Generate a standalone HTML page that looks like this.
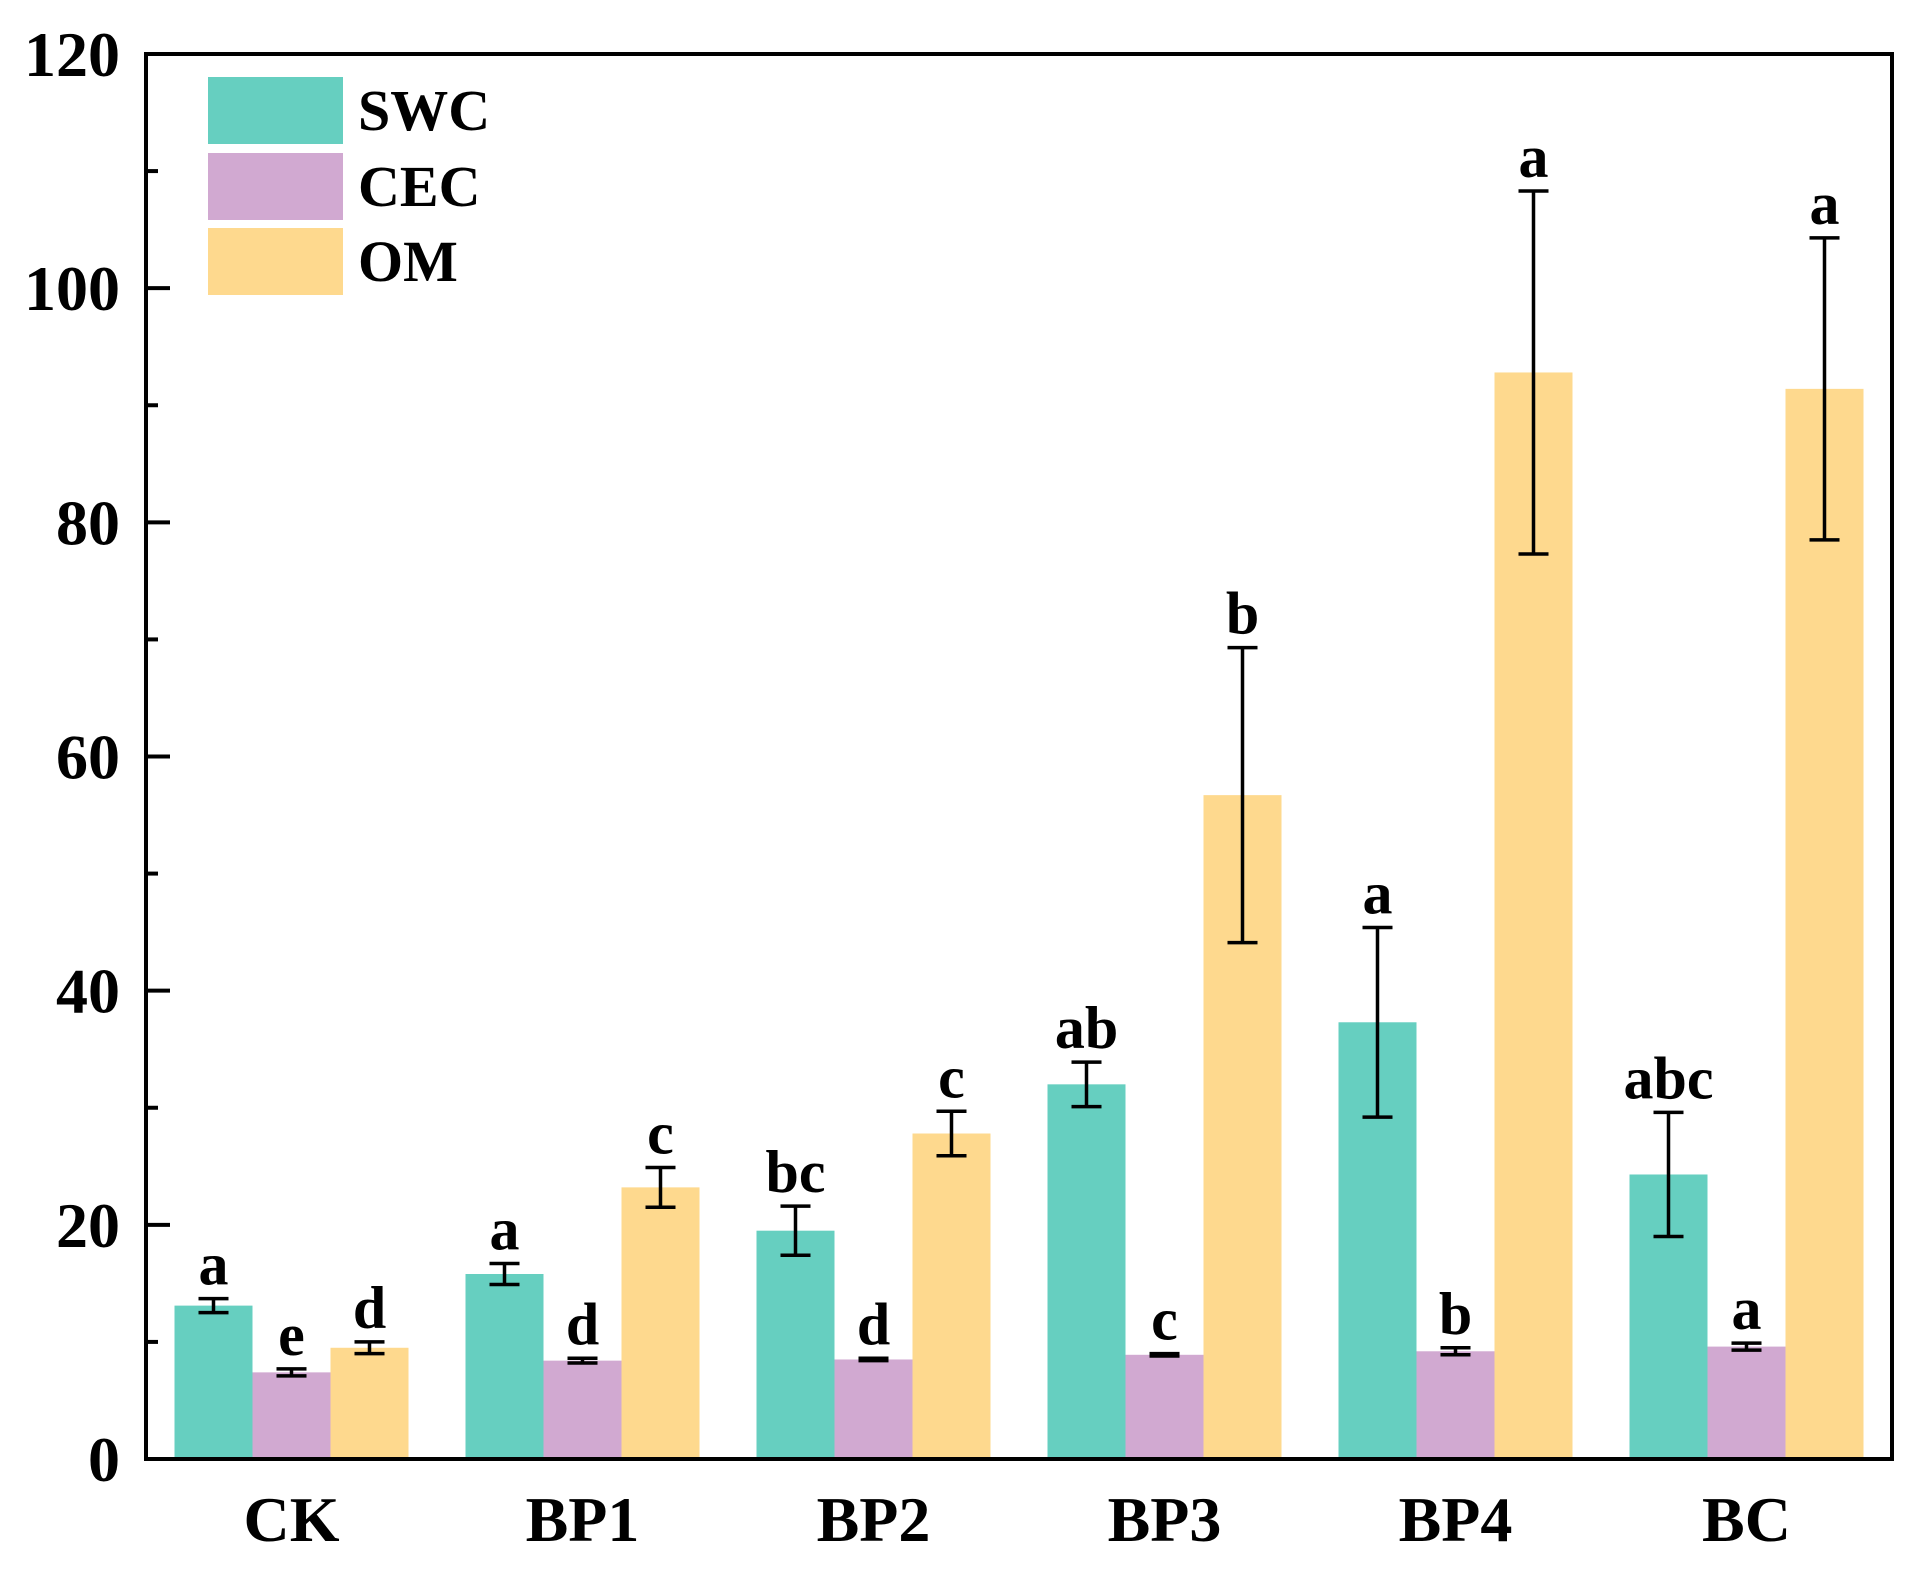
<!DOCTYPE html>
<html><head><meta charset="utf-8"><style>
body{margin:0;background:#fff}
svg{display:block}
text{font-family:"Liberation Serif",serif;font-weight:bold;fill:#000}
</style></head><body>
<svg id="chart" width="1914" height="1574" viewBox="0 0 1914 1574" xmlns="http://www.w3.org/2000/svg">
<g id="bars"></g>
<g id="axes"></g>
<g id="legend"></g>
</svg>
<script>
const categories = ["CK","BP1","BP2","BP3","BP4","BC"];
const seriesNames = ["SWC","CEC","OM"];
const swcValues = [13.1,15.8,19.5,32.0,37.3,24.3];
const cecValues = [7.4,8.4,8.5,8.9,9.2,9.6];
const omValues = [9.5,23.2,27.8,56.7,92.8,91.4];
const swcErrors = [0.6,0.9,2.1,1.9,8.1,5.3];
const cecErrors = [0.3,0.2,0.1,0.1,0.3,0.3];
const omErrors = [0.5,1.7,1.9,12.6,15.5,12.9];
const swcLetters = ["a","a","bc","ab","a","abc"];
const cecLetters = ["e","d","d","c","b","a"];
const omLetters = ["d","c","c","b","a","a"];
const yTicks = [0,20,40,60,80,100,120];
const colors = ["#66cfc0","#d1a9d1","#fed98e"];

const NS="http://www.w3.org/2000/svg";
const L=146,R=1892,T=54,B=1459;
const yMax=120;
function y(v){return B-(v/yMax)*(B-T);}
const groupW=(R-L)/categories.length;
function gx(i){return L+groupW*(i+0.5);}
const barW=78;
function mk(tag,attrs,parent){const e=document.createElementNS(NS,tag);for(const k in attrs)e.setAttribute(k,attrs[k]);parent.appendChild(e);return e;}
const bars=document.getElementById('bars');
const axes=document.getElementById('axes');
const legend=document.getElementById('legend');
const vals=[swcValues,cecValues,omValues];
const errs=[swcErrors,cecErrors,omErrors];
const lets=[swcLetters,cecLetters,omLetters];
categories.forEach((c,i)=>{
  for(let s=0;s<3;s++){
    const cx=gx(i)+(s-1)*barW;
    const v=vals[s][i],e=errs[s][i];
    const r=mk('rect',{x:cx-barW/2,y:y(v),width:barW,height:B-y(v),fill:colors[s]},bars);
    
    
    const g=mk('g',{stroke:'#000','stroke-width':3.5},bars);
    
    
    mk('line',{x1:cx,x2:cx,y1:y(v+e),y2:y(v-e)},g);
    mk('line',{x1:cx-15,x2:cx+15,y1:y(v+e),y2:y(v+e)},g);
    mk('line',{x1:cx-15,x2:cx+15,y1:y(v-e),y2:y(v-e)},g);
    const t=mk('text',{x:cx,y:y(v+e)-14,'text-anchor':'middle','font-size':60},bars);
    
    
    t.textContent=lets[s][i];
  }
  const t=mk('text',{x:gx(i),y:1541,'text-anchor':'middle','font-size':64},axes);
  
  
  t.textContent=c;
});
const f=mk('rect',{x:L,y:T,width:R-L,height:B-T,fill:'none',stroke:'#000','stroke-width':4},axes);


for(let v=0;v<=yMax;v+=10){
  const major=v%20===0;
  mk('line',{x1:L,x2:L+(major?24:12),y1:y(v),y2:y(v),stroke:'#000','stroke-width':4},axes);
}
yTicks.forEach(v=>{
  const t=mk('text',{x:120,y:y(v)+22,'text-anchor':'end','font-size':64},axes);
  
  
  t.textContent=v;
});
const ly=[77,153,228];
seriesNames.forEach((n,s)=>{
  const r=mk('rect',{x:208,y:ly[s],width:135,height:67,fill:colors[s]},legend);
  
  
  const t=mk('text',{x:358,y:ly[s]+53,'font-size':58},legend);
  
  
  t.textContent=n;
});
</script>
</body></html>
